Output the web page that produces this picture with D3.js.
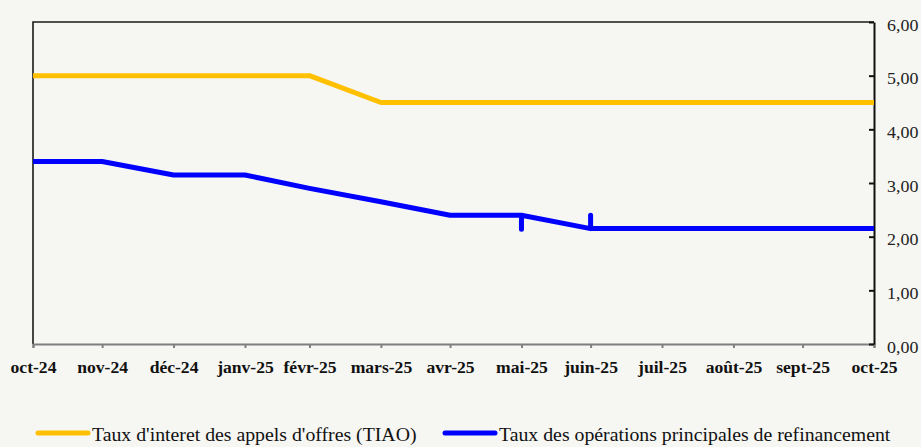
<!DOCTYPE html>
<html>
<head>
<meta charset="utf-8">
<script src="https://cdn.jsdelivr.net/npm/d3@7"></script>
<style>
  body { margin: 0; background: #f6f6f2; }
  svg { display: block; }
  svg text { font-family: "Liberation Serif", "Times New Roman", Times, "DejaVu Serif", serif; }
</style>
</head>
<body>
<div id="plot"></div>
<script>
// month ticks (end of month) and their labels
var tickDates = ["2024-10-31", "2024-11-30", "2024-12-31", "2025-01-31", "2025-02-28",
  "2025-03-31", "2025-04-30", "2025-05-31", "2025-06-30", "2025-07-31",
  "2025-08-31", "2025-09-30", "2025-10-31"];
var tickLabels = ["oct-24", "nov-24", "déc-24", "janv-25", "févr-25", "mars-25", "avr-25",
  "mai-25", "juin-25", "juil-25", "août-25", "sept-25", "oct-25"];

// TIAO series
var tiaoDates = tickDates;
var tiaoValues = [5.00, 5.00, 5.00, 5.00, 5.00, 4.50, 4.50, 4.50, 4.50, 4.50, 4.50, 4.50, 4.50];

// refinancing rate series (with the two small glitches at mai / juin)
var refiDates = ["2024-10-31", "2024-11-30", "2024-12-31", "2025-01-31", "2025-02-28",
  "2025-03-31", "2025-04-30", "2025-05-31", "2025-05-31", "2025-05-31",
  "2025-06-30", "2025-06-30", "2025-06-30", "2025-07-31", "2025-08-31",
  "2025-09-30", "2025-10-31"];
var refiValues = [3.40, 3.40, 3.15, 3.15, 2.90, 2.65, 2.40, 2.40, 2.14, 2.40,
  2.15, 2.40, 2.15, 2.15, 2.15, 2.15, 2.15];

var yTicks = [0, 1, 2, 3, 4, 5, 6];

var seriesNames = ["Taux d'interet des appels d'offres (TIAO)", "Taux des opérations principales de refinancement"];
var seriesColors = ["#ffc000", "#0000ff"];

var W = 921, H = 447;
var margin = {top: 22, right: 47, bottom: 103, left: 33},
    width = W - margin.left - margin.right,
    height = H - margin.top - margin.bottom;

var parse = d3.timeParse("%Y-%m-%d");

var svg = d3.select("div#plot")
  .append("svg")
    .attr("width", W)
    .attr("height", H)
  .append("g")
    .attr("transform", "translate(" + margin.left + "," + margin.top + ")");

var x = d3.scaleTime()
    .domain([parse(tickDates[0]), parse(tickDates[tickDates.length - 1])])
    .range([0, width]);
var y = d3.scaleLinear().domain([0, 6]).range([height, 0]);

// frame: top + left borders
svg.append("path")
  .attr("d", "M0," + height + "V0H" + width)
  .attr("fill", "none")
  .attr("stroke", "#1a1a1a")
  .attr("stroke-width", 1.6);

// bottom axis (grey)
var xAxis = d3.axisBottom(x)
  .tickValues(tickDates.map(parse))
  .tickSize(4)
  .tickFormat(function(d, i) { return tickLabels[i]; });
var gx = svg.append("g")
  .attr("transform", "translate(0," + height + ")")
  .call(xAxis);
gx.attr("font-family", null);
gx.select(".domain").attr("stroke", "#7f7f7f").attr("stroke-width", 2);
gx.selectAll(".tick line").attr("stroke", "#7f7f7f").attr("stroke-width", 2);
gx.selectAll(".tick text")
  .attr("fill", "#111")
  .attr("font-weight", "bold")
  .attr("font-size", 16)
  .attr("y", 0)
  .attr("dy", 0)
  .attr("transform", "translate(0,29) scale(1.1,1)");

// right axis
var yAxis = d3.axisRight(y)
  .tickValues(yTicks)
  .tickSizeInner(-5)
  .tickSizeOuter(0)
  .tickPadding(12)
  .tickFormat(function(d) { return d3.format(".2f")(d).replace(".", ","); });
var gy = svg.append("g")
  .attr("transform", "translate(" + width + ",0)")
  .call(yAxis);
gy.attr("font-family", null);
gy.select(".domain").attr("stroke", "#111").attr("stroke-width", 2);
gy.selectAll(".tick line").attr("stroke", "#111").attr("stroke-width", 2);
gy.selectAll(".tick text")
  .attr("fill", "#222")
  .attr("font-size", 16)
  .attr("x", 0)
  .attr("dy", 0)
  .attr("text-anchor", "start")
  .attr("transform", "translate(13,8) scale(1.12,1)");

var line = d3.line()
  .x(function(d) { return x(d.date); })
  .y(function(d) { return y(d.value); });

var tiao = tiaoDates.map(function(d, i) { return {date: parse(d), value: tiaoValues[i]}; });
var refi = refiDates.map(function(d, i) { return {date: parse(d), value: refiValues[i]}; });

svg.append("path")
  .datum(tiao)
  .attr("d", line)
  .attr("fill", "none")
  .attr("stroke", seriesColors[0])
  .attr("stroke-width", 5)
  .attr("stroke-linejoin", "round");

svg.append("path")
  .datum(refi)
  .attr("d", line)
  .attr("fill", "none")
  .attr("stroke", seriesColors[1])
  .attr("stroke-width", 5)
  .attr("stroke-linejoin", "round");

// legend (kept just inside the bottom edge)
var legendX = [3, 410];
var legend = svg.selectAll(".legend")
  .data(seriesNames)
  .enter().append("g")
  .attr("class", "legend")
  .attr("transform", function(d, i) { return "translate(" + legendX[i] + "," + (433 - margin.top) + ")"; });

legend.append("line")
  .attr("x1", 2).attr("x2", 52)
  .attr("y1", 0).attr("y2", 0)
  .attr("stroke", function(d, i) { return seriesColors[i]; })
  .attr("stroke-width", 5)
  .attr("stroke-linecap", "round");

legend.append("text")
  .attr("x", 56)
  .attr("y", 8)
  .attr("fill", "#111")
  .attr("font-size", 19.8)
  .text(function(d) { return d; });
</script>
</body>
</html>
